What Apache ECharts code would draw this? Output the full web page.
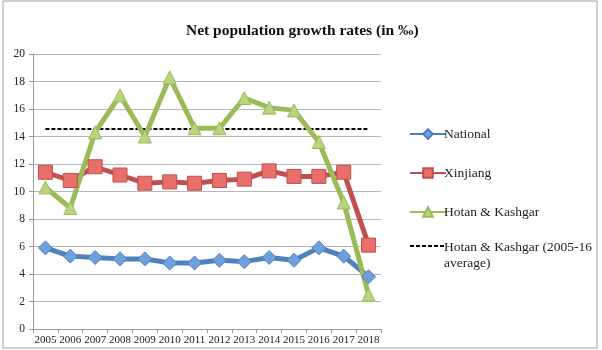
<!DOCTYPE html>
<html>
<head>
<meta charset="utf-8">
<script src="https://cdn.jsdelivr.net/npm/echarts@6/dist/echarts.min.js"></script>
<style>
html,body{margin:0;padding:0;background:#fff;}
#chart{width:602px;height:350px;}
</style>
</head>
<body>
<div id="chart"></div>
<script>
//values (per mille)
let years = ['2005','2006','2007','2008','2009','2010','2011','2012','2013','2014','2015','2016','2017','2018'];
let national = [5.9, 5.3, 5.2, 5.1, 5.1, 4.8, 4.8, 5.0, 4.9, 5.2, 5.0, 5.9, 5.3, 3.8];
let xinjiang = [11.4, 10.8, 11.8, 11.2, 10.6, 10.7, 10.6, 10.8, 10.9, 11.5, 11.1, 11.1, 11.4, 6.1];
let hotanKashgar = [10.3, 8.8, 14.3, 17.0, 14.0, 18.3, 14.6, 14.6, 16.8, 16.1, 15.9, 13.6, 9.2, 2.5];
let hkAverage = [14.55, 14.55, 14.55, 14.55, 14.55, 14.55, 14.55, 14.55, 14.55, 14.55, 14.55, 14.55, 14.55, 14.55];
let yTicks = [0, 2, 4, 6, 8, 10, 12, 14, 16, 18, 20];
let avgName = 'Hotan & Kashgar (2005-16 average)';

let chart = echarts.init(document.getElementById('chart'));
let serif = '"Liberation Serif", "DejaVu Serif", serif';

function lineSeries(name, data, color, fill, symbol, size) {
    return {
        name: name,
        type: 'line',
        data: data,
        symbol: symbol,
        symbolSize: size,
        showAllSymbol: true,
        lineStyle: {color: color, width: 5},
        itemStyle: {color: fill, borderColor: color, borderWidth: 1},
        z: 3
    };
}

let legendText = {fontFamily: serif, fontSize: 13.5, color: '#222', padding: [0, 0, 0, -7]};

let option = {
    animation: false,
    title: {
        text: 'Net population growth rates (in \u2030)',
        left: 181,
        top: 18,
        textStyle: {fontFamily: serif, fontSize: 15.5, fontWeight: 'bold', color: '#111'}
    },
    graphic: [{
        type: 'rect',
        shape: {x: 3, y: 1, width: 594, height: 347},
        style: {fill: 'none', stroke: '#a0a0a0', lineWidth: 1},
        silent: true
    }],
    legend: [{
        orient: 'vertical',
        left: 404,
        top: 122,
        itemWidth: 36,
        itemHeight: 12,
        itemGap: 25,
        textStyle: legendText,
        data: ['National', 'Xinjiang', 'Hotan & Kashgar']
    }, {
        orient: 'vertical',
        left: 404,
        top: 216,
        itemWidth: 36,
        itemHeight: 12,
        textStyle: Object.assign({}, legendText, {
            lineHeight: 16,
            rich: {g: {lineHeight: 18, fontSize: 1}}
        }),
        data: [{name: avgName, itemStyle: {opacity: 0}}],
        formatter: function (name) {
            // leading spacer keeps the icon level with the first text line
            return '{g| }\n' + name.replace('(2005-16 average)', '(2005-16\naverage)');
        }
    }],
    grid: {left: 33, right: 221, top: 54, bottom: 21},
    xAxis: {
        type: 'category',
        data: years,
        boundaryGap: true,
        axisLine: {lineStyle: {color: '#999'}},
        axisTick: {show: true, lineStyle: {color: '#999'}, length: 4},
        axisLabel: {fontFamily: serif, fontSize: 11, color: '#222', margin: 6, interval: 0}
    },
    yAxis: {
        type: 'value',
        min: yTicks[0],
        max: yTicks[yTicks.length - 1],
        interval: 2,
        axisLine: {show: true, lineStyle: {color: '#999'}},
        axisTick: {show: true, lineStyle: {color: '#999'}, length: 4},
        axisLabel: {fontFamily: serif, fontSize: 11.5, color: '#222', margin: 8},
        splitLine: {lineStyle: {color: '#b8b8b8'}}
    },
    series: [
        lineSeries('National', national, '#4f81bd', '#6fa0dc', 'diamond', 14),
        lineSeries('Xinjiang', xinjiang, '#c0504d', '#e86f6a', 'rect', 14),
        lineSeries('Hotan & Kashgar', hotanKashgar, '#9bbb59', '#b9d47e', 'triangle', 13),
        {
            name: avgName,
            type: 'line',
            data: hkAverage,
            symbol: 'none',
            lineStyle: {color: '#000', width: 2, type: [4, 2]},
            itemStyle: {color: '#000'},
            z: 2
        }
    ]
};

chart.setOption(option);
</script>
</body>
</html>
